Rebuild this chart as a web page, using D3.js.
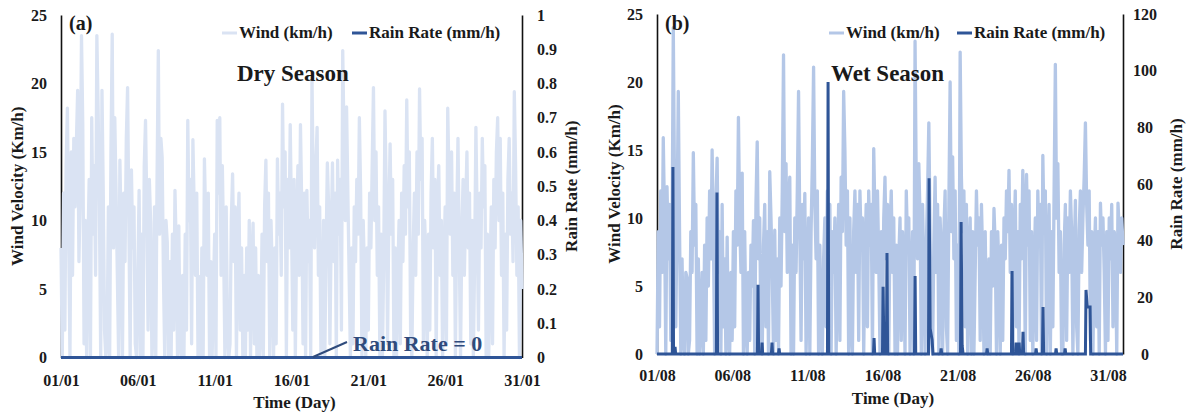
<!DOCTYPE html>
<html>
<head>
<meta charset="utf-8">
<style>
  body { margin: 0; background: #fff; }
  svg text { font-family: "Liberation Serif", "Times New Roman", serif; font-weight: bold; fill: #1a1a1a; }
  .tick text { font-size: 16px; }
  .domain { stroke: #111; stroke-width: 1.6px; }
</style>
</head>
<body>
<script src="https://cdnjs.cloudflare.com/ajax/libs/d3/7.8.5/d3.min.js"></script>
<script>
// ---- data (wind: one value every 2 h, 12 per day; rain: [day, mm/h]) ----
var windA = [
  8,0,12,2,14,18.2,9,0,15,6,16,11,
  15.6,19.5,7,12,23.5,17,1,10,0,8,13,0,
  17.5,9,14,6,23.5,18,11,0,19.5,12,2,0,
  1,11,0,15,23.6,8,17.5,12,6,0,14.4,9,
  0,12,7,16,19.7,10,0,13.7,8,11,1,0,
  6,12.2,0,9,0,14,17.3,11,2,13,9.8,0,
  2,11,0,13,22.4,9,16,14.6,6,0,10,8.4,
  0,7,0,9,2,12.2,8,0,9.6,1,0,6,
  0,9,2,17.3,10,13,1,15.9,11,6,12,0,
  5.9,0,8,0,14.5,10,6,12,0,7,0,4.7,
  9,0,17.3,12,17.5,6,14,8,0,11,2,0,
  1,10,13.4,7,11,0,9,12,2,8,0,6,
  0,8,2,10,0,7,9.8,1,8,0,6,0,
  2,9,0,11,14.4,7,12,0,10,6,0,8,
  1,14.5,9,12,6,18.5,11,15,0,13,8,17,
  10,2,13,0,9,14,6,17,11,1,12,0,
  12.2,7,10,0,20.5,12,8,14,16.8,6,11,0,
  2,10,0,8,14.2,11,1,9,14.2,7,12,0,
  14.4,9,13,2,22.4,16,10,18.3,12,6,0,8,
  1,11,7,13,9,17.5,12,0,10,6,0,8,
  2,12,8,14,19.7,10,15,6,11,0,9,0,
  7,18,12,1,10,15.6,9,13,0,8,0,6,
  10,1,12,7,14,9,18.8,11,15,2,0,8,
  12,6,15,9,19.6,13,16,1,10,7,0,9,
  2,12,16,8,13,0,11,14,6,10,0,7,
  11,1,18.2,13,9,15,6,12,0,10,16,8,
  0,9,13,6,11,15,8,12,1,10,0,7,
  16.8,10,2,12,8,16,11,14,0,9,0,6,
  11,1,13,8,15,17.5,10,16,6,12,0,9,
  2,13,16,9,12,7,19.4,14,6,11,0,10,
  5
];
var windB = [
  0,9,2,12,6,15.9,10,0,12.3,7,11,1,
  8,24,12,2,10,19.3,9,0,7,1,0,6,
  5.6,0,1,9,6,14.8,8,11,0,7,0,2,
  6,0,8,1,10,5,12,7,15,9,0,11,
  14.4,6,9,0,11,2,7,0,8.6,1,0,6,
  1,9,2,12,8,17.4,10,6,13.3,0,9,2,
  0,6,1,8,5,9.8,0,11,15.6,7,10,1,
  0,8,11,2,9,0,13.4,10,6,0,9.1,1,
  7,0,10,5,12,22,9,14,6,11,13,0,
  8,0,10,6,12,19.3,9,1,11,7,11.8,0,
  5,10,0,9,14,21.1,11,7,12,0,8,1,
  0,7,10,2,12,8,11,0,9,6,10,0,
  6,11,1,13,9,19.3,15,8,12,0,10,2,
  0,9,12,6,11,1,12,8,10,0,7,11,
  2,12,8,11,0,15.1,10,6,12,7,0,9,
  1,10,13,7,11,0,9,12,6,10,0,8,
  0,7,10,1,9,6,0,12,8,10,0,5,
  9,0,23,12,7,14,10,0,11,6,0,8,
  12,17,9,1,0,8,13,6,11,0,10,7,
  0,9,12,2,0,11,20,9,14.5,7,12,1,
  8,0,22.2,13,9,12,2,11,0,7,10,0,
  9,0,6,12,8,10,1,11,7,0,9,2,
  0,7,0,9,5,10.7,8,0,9,6,0,8,
  1,10,7,12,9,13.5,6,11,0,8,12,2,
  9,0,11,7,13.5,10,0,13.2,8,12,1,9,
  0,6,10,1,12,8,11,0,14.6,9,12,0,
  7,11,0,9,2,12,21.3,10,14,6,9,0,
  0,8,11,1,10,6,12,9,0,7,11.3,2,
  0,9,12,6,10,13,17,11,8,12,1,9,
  0,7,10,2,9,0,11.1,8,10,6,0,9,
  1,10,7,11,2,9,8,0,11.1,9,6,10,
  8
];
var rainA = [[0,0],[30,0]];
var rainB = [
  [0,0],[1.02,0],[1.06,66],[1.10,0],[1.16,0],[1.20,2.5],[1.24,0],
  [3.95,0],[3.99,57],[4.03,0],
  [6.68,0],[6.72,24.4],[6.76,0],[6.95,0],[6.99,4],[7.03,0],[7.61,0],[7.65,4],[7.69,0],[8.08,0],[8.12,2],[8.16,0],
  [11.34,0],[11.38,96],[11.42,0],
  [14.40,0],[14.44,5.6],[14.48,0],
  [15.00,0],[15.04,23.7],[15.10,0],[15.26,0],[15.30,35.6],[15.34,0],
  [17.13,0],[17.17,27.5],[17.21,0],
  [18.06,0],[18.10,62],[18.17,9],[18.30,5],[18.36,0],
  [18.86,0],[18.90,2],[18.94,0],
  [20.19,0],[20.23,46.6],[20.30,3],[20.36,0],
  [21.92,0],[21.96,2],[22.00,0],
  [23.58,0],[23.62,29.3],[23.66,0],[23.85,0],[23.89,4],[23.93,0],[24.05,0],[24.09,4],[24.13,0],[24.31,0],[24.35,7.8],[24.39,0],
  [25.18,0],[25.22,2],[25.26,0],
  [25.64,0],[25.68,16.6],[25.72,0],
  [26.51,0],[26.55,2],[26.59,0],
  [27.11,0],[27.15,2],[27.19,0],
  [28.50,0],[28.54,22.6],[28.62,16.6],[28.81,16.6],[28.85,0],
  [31,0]
];
var windTicks = [0, 5, 10, 15, 20, 25];
var dayTicks = [0, 5, 10, 15, 20, 25, 30];
var dayLabelsA = ["01/01","06/01","11/01","16/01","21/01","26/01","31/01"];
var dayLabelsB = ["01/08","06/08","11/08","16/08","21/08","26/08","31/08"];
var rainTicksA = [0,0.1,0.2,0.3,0.4,0.5,0.6,0.7,0.8,0.9,1];
var rainTicksB = [0,20,40,60,80,100,120];

var svg = d3.select("body").append("svg").attr("width", 1193).attr("height", 419);

function panel(p) {
  var g = svg.append("g");
  var x = d3.scaleLinear().domain([0, p.days]).range([p.left, p.right]);
  var y = d3.scaleLinear().domain([0, 25]).range([p.bottom, p.top]);
  var y2 = d3.scaleLinear().domain([0, p.rainMax]).range([p.bottom, p.top]);

  g.append("g").attr("transform", "translate(" + p.left + ",0)")
    .call(d3.axisLeft(y).tickValues(windTicks).tickSize(0).tickSizeOuter(0).tickPadding(14));

  var ra = g.append("g").attr("transform", "translate(" + p.right + ",0)")
    .call(d3.axisRight(y2).tickValues(p.rainTicks).tickSize(0).tickSizeOuter(0)
      .tickPadding(p.rainPad).tickFormat(function(d) { return String(d); }));
  if (p.rainAnchor) ra.selectAll(".tick text").attr("text-anchor", p.rainAnchor);

  var xa = g.append("g").attr("transform", "translate(0," + p.bottom + ")")
    .call(d3.axisBottom(x).tickValues(dayTicks).tickSize(0).tickPadding(p.xPad)
      .tickFormat(function(d, i) { return p.dayLabels[i]; }));
  xa.select(".domain").remove();

  // wind
  g.append("path").datum(p.wind)
    .attr("fill", "none").attr("stroke", p.windColor).attr("stroke-width", 3.3)
    .attr("stroke-linejoin", "round")
    .attr("d", d3.line().x(function(d, i) { return x(i / 12); }).y(function(d) { return y(d); }));

  // rain
  g.append("path").datum(p.rain)
    .attr("fill", "none").attr("stroke", "#2f5597").attr("stroke-width", 3)
    .attr("d", d3.line().x(function(d) { return x(d[0]); }).y(function(d) { return y2(d[1]); }));

  // titles
  g.append("text").attr("transform", "translate(" + p.yTitleX + "," + ((p.top + p.bottom) / 2) + ") rotate(-90)")
    .attr("text-anchor", "middle").style("font-size", "17px").text("Wind Velocity (Km/h)");
  g.append("text").attr("transform", "translate(" + p.y2TitleX + "," + ((p.top + p.bottom) / 2) + ") rotate(-90)")
    .attr("text-anchor", "middle").style("font-size", "17px").text("Rain Rate (mm/h)");
  g.append("text").attr("x", (p.left + p.right) / 2 + 3).attr("y", p.xTitleY)
    .attr("text-anchor", "middle").style("font-size", "17px").text("Time (Day)");

  g.append("text").attr("x", p.left + 8).attr("y", 30).style("font-size", "20px").text(p.tag);
  g.append("text").attr("x", p.seasonX).attr("y", 81).style("font-size", "23px").text(p.season);

  // legend
  g.append("line").attr("x1", p.legX).attr("x2", p.legX + 15).attr("y1", 33).attr("y2", 33)
    .attr("stroke", p.windColor).attr("stroke-width", 3);
  g.append("text").attr("x", p.legX + 17).attr("y", 38).style("font-size", "17px").text("Wind (km/h)");
  g.append("line").attr("x1", p.legX2).attr("x2", p.legX2 + 15).attr("y1", 33).attr("y2", 33)
    .attr("stroke", "#2f5597").attr("stroke-width", 3);
  g.append("text").attr("x", p.legX2 + 17).attr("y", 38).style("font-size", "17px").text("Rain Rate (mm/h)");
}

panel({
  left: 61, right: 522, top: 15, bottom: 357.5, days: 30,
  wind: windA, rain: rainA, rainMax: 1, rainTicks: rainTicksA, rainPad: 15,
  dayLabels: dayLabelsA, xPad: 17, windColor: "#dae3f3",
  yTitleX: 23, y2TitleX: 577, xTitleY: 408, tag: "(a)", season: "Dry Season", seasonX: 237,
  legX: 222, legX2: 352
});
panel({
  left: 657, right: 1123, top: 14, bottom: 354, days: 31,
  wind: windB, rain: rainB, rainMax: 120, rainTicks: rainTicksB, rainPad: 22, rainAnchor: "middle",
  dayLabels: dayLabelsB, xPad: 16, windColor: "#b4c7e7",
  yTitleX: 620, y2TitleX: 1182, xTitleY: 404, tag: "(b)", season: "Wet Season", seasonX: 831,
  legX: 829, legX2: 957
});

// annotation on panel (a)
svg.append("line").attr("x1", 347).attr("y1", 342).attr("x2", 313).attr("y2", 357)
  .attr("stroke", "#2f4b7c").attr("stroke-width", 2);
svg.append("text").attr("x", 353).attr("y", 351).style("font-size", "22px").style("fill", "#2f4b7c")
  .text("Rain Rate = 0");
</script>
</body>
</html>
